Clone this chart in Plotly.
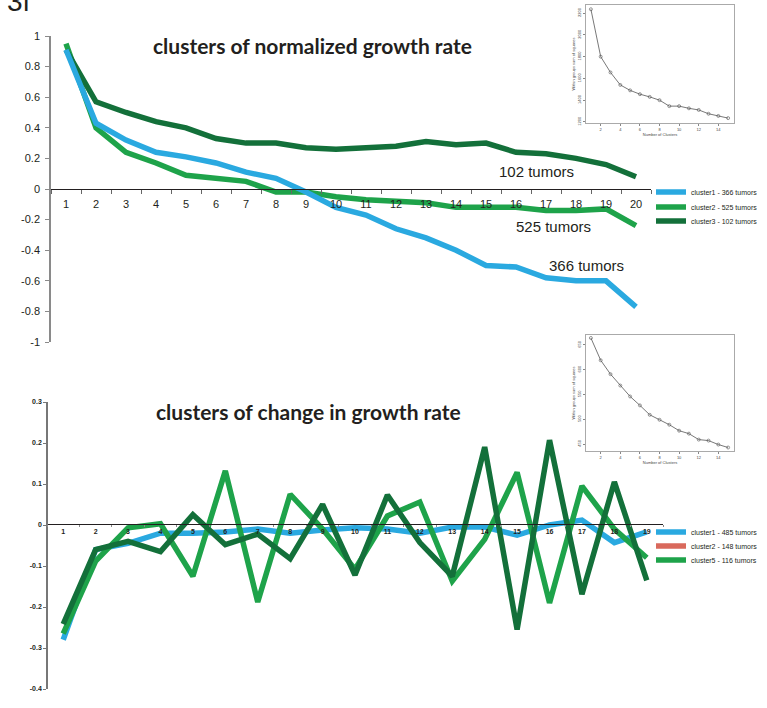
import plotly.graph_objects as go

W, H = 767, 708

# ---------------- data ----------------
top_categories = [str(i) for i in range(1, 21)]
top_cluster1 = [0.91, 0.43, 0.32, 0.24, 0.21, 0.17, 0.11, 0.07, -0.02, -0.12,
                -0.17, -0.26, -0.32, -0.40, -0.50, -0.51, -0.58, -0.60, -0.60, -0.77]
top_cluster2 = [0.95, 0.40, 0.24, 0.17, 0.09, 0.07, 0.05, -0.02, -0.02, -0.05,
                -0.07, -0.08, -0.09, -0.12, -0.12, -0.12, -0.14, -0.14, -0.13, -0.24]
top_cluster3 = [0.91, 0.57, 0.50, 0.44, 0.40, 0.33, 0.30, 0.30, 0.27, 0.26,
                0.27, 0.28, 0.31, 0.29, 0.30, 0.24, 0.23, 0.20, 0.16, 0.08]
top_names = ["cluster1 - 366 tumors", "cluster2 - 525 tumors", "cluster3 - 102 tumors"]
top_labels = ["366 tumors", "525 tumors", "102 tumors"]
top_yticks = [1, 0.8, 0.6, 0.4, 0.2, 0, -0.2, -0.4, -0.6, -0.8, -1]

bot_categories = [str(i) for i in range(1, 20)]
bot_cluster1 = [-0.28, -0.06, -0.045, -0.02, -0.02, -0.017, -0.01, -0.02, -0.012, -0.007,
                -0.01, -0.02, -0.005, -0.005, -0.025, 0.0, 0.012, -0.043, -0.017]
bot_cluster5 = [-0.265, -0.088, -0.007, 0.003, -0.125, 0.132, -0.188, 0.075, -0.01, -0.108,
                0.022, 0.056, -0.137, -0.035, 0.128, -0.19, 0.095, -0.01, -0.08]
bot_dark = [-0.242, -0.06, -0.04, -0.065, 0.025, -0.048, -0.022, -0.082, 0.05, -0.122,
            0.073, -0.043, -0.125, 0.19, -0.255, 0.207, -0.169, 0.105, -0.135]
bot_names = ["cluster1 - 485 tumors", "cluster2 - 148 tumors", "cluster5 - 116 tumors"]
bot_yticks = [0.3, 0.2, 0.1, 0, -0.1, -0.2, -0.3, -0.4]

elbow_k = list(range(1, 16))
elbow_top = [2236, 1800, 1655, 1540, 1490, 1455, 1430, 1400, 1345, 1345,
             1325, 1310, 1275, 1255, 1235]
elbow_top_ticks = [1200, 1400, 1600, 1800, 2000, 2200]
elbow_bot = [664, 619, 591, 568, 546, 528, 509, 499, 489, 477,
             471, 459, 457, 449, 443]
elbow_bot_ticks = [450, 500, 550, 600, 650]
elbow_xticks = [2, 4, 6, 8, 10, 12, 14]

# ---------------- styles ----------------
BLUE = "#2aa9e0"
MID = "#1ea34a"
DARK = "#13703a"
RED = "#d9695c"
TXT = "#231f20"


def xd(a, b):
    return [a / W, b / W]


def yd(top, bottom):
    return [1 - bottom / H, 1 - top / H]


def fmt(v):
    return "0" if v == 0 else ("%g" % v)


fig = go.Figure()

# top main chart (drawing order differs from legend order); one legend box per entry
for vals, name, col, leg in [(top_cluster2, top_names[1], MID, "legend2"),
                             (top_cluster3, top_names[2], DARK, "legend3"),
                             (top_cluster1, top_names[0], BLUE, "legend")]:
    fig.add_trace(go.Scatter(x=top_categories, y=vals, name=name, mode="lines",
                             line=dict(color=col, width=5.5), xaxis="x", yaxis="y",
                             legend=leg))

# bottom main chart
fig.add_trace(go.Scatter(x=bot_categories, y=bot_cluster1, name=bot_names[0], mode="lines",
                         line=dict(color=BLUE, width=5.5), xaxis="x3", yaxis="y3",
                         legend="legend4"))
fig.add_trace(go.Scatter(x=[None], y=[None], name=bot_names[1], mode="lines",
                         line=dict(color=RED, width=5.5), xaxis="x3", yaxis="y3",
                         legend="legend5"))
fig.add_trace(go.Scatter(x=bot_categories, y=bot_cluster5, name=bot_names[2], mode="lines",
                         line=dict(color=MID, width=5.5), xaxis="x3", yaxis="y3",
                         legend="legend6"))
fig.add_trace(go.Scatter(x=bot_categories, y=bot_dark, name="cluster", mode="lines",
                         line=dict(color=DARK, width=5.5), xaxis="x3", yaxis="y3",
                         showlegend=False))

# insets
for xs, ys, xa, ya in [(elbow_k, elbow_top, "x2", "y2"), (elbow_k, elbow_bot, "x4", "y4")]:
    fig.add_trace(go.Scatter(x=xs, y=ys, mode="lines+markers", showlegend=False,
                             line=dict(color="#555", width=0.8),
                             marker=dict(symbol="circle-open", size=3, color="#555",
                                         line=dict(width=0.6)),
                             xaxis=xa, yaxis=ya))

tickf = dict(family="Liberation Sans, Arial", size=11, color=TXT)
small_bold = dict(family="Liberation Sans, Arial", size=7, color=TXT, weight="bold")
tiny = dict(family="Liberation Sans, Arial", size=4, color="#444")
leg_font = dict(family="Liberation Sans, Arial", size=7, color=TXT)


def inset_axes(dom_x, dom_y, yrange, yticks, xa, ya):
    xax = dict(domain=dom_x, range=[0.5, 15.6], anchor=ya,
               showline=True, mirror=True, linecolor="#aaa", linewidth=1,
               ticks="outside", ticklen=2, tickcolor="#888", tickvals=elbow_xticks,
               tickfont=tiny, showgrid=False, zeroline=False,
               title=dict(text="Number of Clusters", font=tiny, standoff=2))
    yax = dict(domain=dom_y, range=yrange, anchor=xa,
               showline=True, mirror=True, linecolor="#aaa", linewidth=1,
               ticks="outside", ticklen=2, tickcolor="#888", tickvals=yticks,
               tickangle=-90, tickfont=tiny, showgrid=False, zeroline=False,
               title=dict(text="Within groups sum of squares", font=tiny, standoff=2))
    return xax, yax


x2, y2 = inset_axes(xd(586, 734), yd(5, 123), [1190, 2275], elbow_top_ticks, "x2", "y2")
x4, y4 = inset_axes(xd(586, 734), yd(335, 451), [436, 670], elbow_bot_ticks, "x4", "y4")


def leg(ypx):
    return dict(x=651 / W, y=1 - ypx / H, xanchor="left", yanchor="middle",
                font=leg_font, bgcolor="rgba(0,0,0,0)", itemwidth=30,
                borderwidth=0)


layout = dict(
    width=W, height=H,
    margin=dict(l=0, r=0, t=0, b=0, autoexpand=False),
    paper_bgcolor="white", plot_bgcolor="rgba(0,0,0,0)",
    showlegend=True,
    # top main
    xaxis=dict(domain=xd(51, 651), type="category", range=[-0.5, 19.5],
               anchor="free", position=1 - 189 / H,
               showline=True, linecolor=TXT, linewidth=1.2,
               ticks="outside", ticklen=4, tickcolor="#666", tickson="boundaries",
               ticklabelstandoff=5,
               tickfont=tickf, showgrid=False, zeroline=False),
    yaxis=dict(domain=yd(36, 342), range=[-1, 1], anchor="free", position=50 / W,
               showline=True, linecolor="#8a8a8a", linewidth=1.5,
               ticks="outside", ticklen=4, tickcolor="#8a8a8a",
               ticklabelstandoff=3,
               tickvals=top_yticks, ticktext=[fmt(v) for v in top_yticks],
               tickfont=tickf, showgrid=False, zeroline=False),
    xaxis2=x2, yaxis2=y2,
    # bottom main
    xaxis3=dict(domain=xd(47, 663), type="category", range=[-0.5, 18.5],
                anchor="free", position=1 - 524 / H,
                showline=True, linecolor=TXT, linewidth=1.2,
                ticks="outside", ticklen=2, tickcolor="#888", tickson="boundaries",
                tickfont=small_bold, showgrid=False, zeroline=False),
    yaxis3=dict(domain=yd(402, 689), range=[-0.4, 0.3], anchor="free", position=47 / W,
                showline=True, linecolor="#777", linewidth=1.5,
                ticks="outside", ticklen=3, tickcolor="#777",
                tickvals=bot_yticks, ticktext=[fmt(v) for v in bot_yticks],
                tickfont=small_bold, showgrid=False, zeroline=False),
    xaxis4=x4, yaxis4=y4,
    legend=leg(192), legend2=leg(207), legend3=leg(221),
    legend4=leg(532), legend5=leg(546), legend6=leg(560),
)
fig.update_layout(**layout)

title_font = dict(family="Lato", size=21, color=TXT, weight="bold")
lab_font = dict(family="Liberation Sans, Arial", size=15, color=TXT)

fig.add_annotation(text="clusters of normalized growth rate", xref="paper", yref="paper",
                   x=312 / W, y=1 - 45 / H, showarrow=False, font=title_font,
                   xanchor="center", yanchor="middle")
fig.add_annotation(text="clusters of change in growth rate", xref="paper", yref="paper",
                   x=308 / W, y=1 - 411 / H, showarrow=False, font=title_font,
                   xanchor="center", yanchor="middle")
fig.add_annotation(text="3f", xref="paper", yref="paper", x=5 / W, y=1 - 19 / H,
                   xanchor="left", yanchor="bottom", showarrow=False,
                   font=dict(family="Liberation Sans, Arial", size=28, color=TXT))

# series labels placed near the end of each line
for txt, xpx, ypx in [(top_labels[2], 536, 171), (top_labels[1], 553, 227),
                      (top_labels[0], 586, 265)]:
    fig.add_annotation(text=txt, xref="paper", yref="paper", x=xpx / W, y=1 - ypx / H,
                       showarrow=False, font=lab_font, xanchor="center", yanchor="middle")

fig.write_html("out.html", config={"displayModeBar": False},
               post_script="document.body.style.margin='0px';")
